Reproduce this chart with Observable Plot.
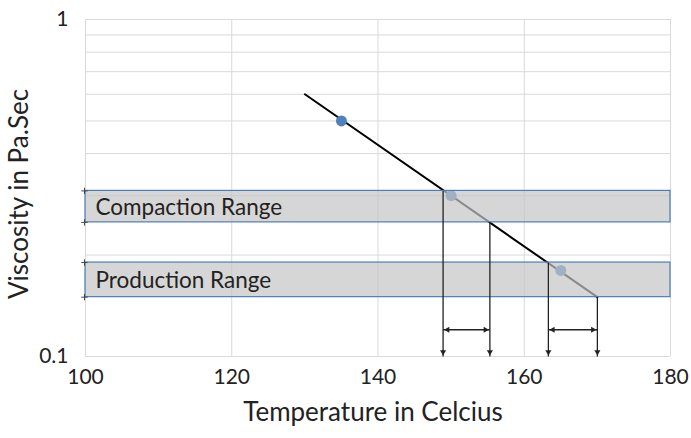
<!DOCTYPE html>
<html>
<head>
<meta charset="utf-8">
<script src="https://cdn.jsdelivr.net/npm/d3@7"></script>
<script src="https://cdn.jsdelivr.net/npm/@observablehq/plot@0.6"></script>
<style>
  html, body { margin: 0; padding: 0; background: #fff; }
</style>
</head>
<body>
<div id="chart"></div>
<script>
// ---- data ----
const lineTemp = [130, 170];
const lineVisc = [0.6, 0.15];

const pointTemp = [135, 150, 165];
const pointVisc = [0.5, 0.3, 0.18];

const bandNames = ["Compaction Range", "Production Range"];
const bandLow = [0.25, 0.15];
const bandHigh = [0.31, 0.19];

const dropTemp = [148.9, 155.3, 163.3, 170];
const dropVisc = [0.31, 0.25, 0.19, 0.15];

const spanStart = [148.9, 163.3];
const spanEnd = [155.3, 170];
const spanVisc = [0.12, 0.12];

const xTicks = [100, 120, 140, 160, 180];
const yTicks = [0.1, 1];
const yGrid = [0.1, 0.2, 0.3, 0.4, 0.5, 0.6, 0.7, 0.8, 0.9, 1];

const xTitle = "Temperature in Celcius";
const yTitle = "Viscosity in Pa.Sec";

// ---- tables ----
const lineData = lineTemp.map((t, i) => ({t, v: lineVisc[i]}));
const pointData = pointTemp.map((t, i) => ({t, v: pointVisc[i]}));
const bands = bandNames.map((name, i) => ({name, lo: bandLow[i], hi: bandHigh[i], mid: Math.sqrt(bandLow[i] * bandHigh[i])}));
const drops = dropTemp.map((t, i) => ({t, v: dropVisc[i]}));
const spans = spanStart.map((s, i) => ({s, e: spanEnd[i], v: spanVisc[i]}));
const bandEdges = bands.flatMap(b => [b.lo, b.hi]);

const ink = "#222";

const chart = Plot.plot({
  width: 691,
  height: 438,
  marginLeft: 85,
  marginRight: 21,
  marginTop: 19,
  marginBottom: 82,
  style: {fontFamily: "Lato, 'Open Sans', sans-serif", color: ink, background: "#fff", overflow: "visible"},
  x: {domain: [100, 180]},
  y: {type: "log", domain: [0.1, 1]},
  marks: [
    Plot.gridX(xTicks, {stroke: "#d9d9d9", strokeOpacity: 1, strokeWidth: 1}),
    Plot.gridY(yGrid, {stroke: "#d9d9d9", strokeOpacity: 1, strokeWidth: 1}),
    Plot.axisX(xTicks, {tickSize: 0, tickPadding: 13, fontSize: 21, label: null, tickFormat: d => String(d)}),
    Plot.axisY(yTicks, {tickSize: 0, tickPadding: 17, fontSize: 21, label: null, tickFormat: d => String(d)}),
    Plot.text([yTitle], {frameAnchor: "left", textAnchor: "middle", rotate: -90, dx: -66, dy: 6, fontSize: 26, fill: ink}),
    Plot.text([xTitle], {frameAnchor: "bottom", textAnchor: "middle", dx: -5, dy: 64, fontSize: 26, fill: ink}),
    // trend line & points
    Plot.line(lineData, {x: "t", y: "v", stroke: "#000", strokeWidth: 2}),
    Plot.dot(pointData, {x: "t", y: "v", r: 5.5, fill: "#4f81bd"}),
    // ranges
    Plot.rect(bands, {x1: 100, x2: 180, y1: "lo", y2: "hi", fill: "#c4c4c4", fillOpacity: 0.7, stroke: "#4a7ebb", strokeWidth: 1.2}),
    Plot.dot(bandEdges, {x: 100, y: d => d, symbol: "plus", r: 2.2, stroke: "#444", strokeWidth: 1, dx: -1}),
    Plot.text(bands, {x: 100, y: "mid", text: "name", textAnchor: "start", dx: 10, dy: 1, fontSize: 22.5, fill: ink}),
    // vertical drop arrows
    Plot.link(drops, {x1: "t", x2: "t", y1: "v", y2: 0.1, stroke: ink, strokeWidth: 1.3}),
    Plot.dot(drops, {x: "t", y: 0.1, symbol: "triangle2", r: 2.9, fill: ink, rotate: 180, dy: -4.5}),
    // horizontal double arrows
    Plot.link(spans, {x1: "s", x2: "e", y1: "v", y2: "v", stroke: ink, strokeWidth: 1.5}),
    Plot.dot(spans, {x: "s", y: "v", symbol: "triangle2", r: 2.9, fill: ink, rotate: -90, dx: 4.5}),
    Plot.dot(spans, {x: "e", y: "v", symbol: "triangle2", r: 2.9, fill: ink, rotate: 90, dx: -4.5})
  ]
});

document.getElementById("chart").append(chart);
</script>
</body>
</html>
